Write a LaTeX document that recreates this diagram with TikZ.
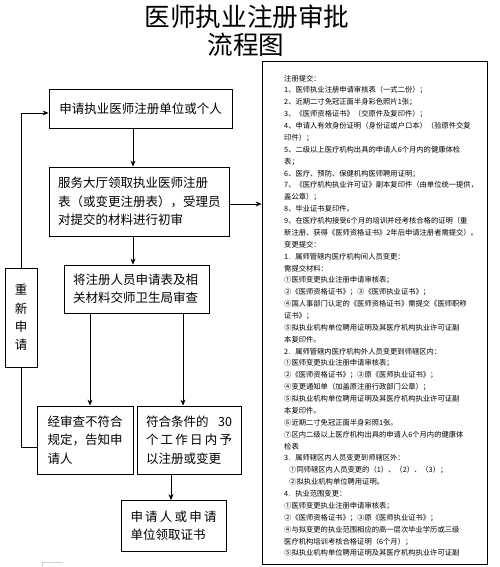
\documentclass[tikz,border=0pt]{standalone}
\usepackage{fontspec}
\setmainfont{Noto Sans CJK SC}
\usetikzlibrary{arrows.meta}
\newcommand\rl[3]{\node[rtxt] (r#1) at (#2,{78.3+11.87*(#1-1)+2.8}) {#3};}
\begin{document}
\begin{tikzpicture}[x=1pt,y=-1pt,
  box/.style={draw, line width=0.8pt, inner sep=0pt, font=\fontsize{12.5}{18.3}\selectfont},
  arr/.style={-{Stealth[length=6pt,width=5pt]}, line width=0.8pt},
  ln/.style={line width=0.8pt},
  rtxt/.style={anchor=base west, inner sep=0pt, font=\fontsize{7.3}{8}\selectfont},
  ttl/.style={inner sep=0pt, font=\fontsize{25.6}{28}\selectfont}]
\useasboundingbox (0,0) rectangle (499,567);
% title
\node[ttl] (t1) at (247,17) {医师执业注册审批};
\node[ttl] (t2) at (246,45) {流程图};
% boxes
\node[box, minimum width=183, minimum height=39] (b1) at (140.5,108.5) {申请执业医师注册单位或个人};
\node[box, minimum width=180, minimum height=69, align=left, text width=162] (b2) at (139,201.5)
  {服务大厅领取执业医师注册\\表（或变更注册表），受理员\\对提交的材料进行初审};
\node[box, minimum width=145, minimum height=48, align=left, text width=127] (b3) at (136.5,289)
  {将注册人员申请表及相\\关材料交师卫生局审查};
\node[box, minimum width=96, minimum height=68, align=left, text width=75] (b4) at (85,440)
  {经审查不符合\\规定，告知申\\请人};
\node[box, minimum width=104, minimum height=68, align=left, text width=86] (b5) at (189,440)
  {\makebox[86pt]{符合条件的\hfill 30}\\\makebox[86pt]{个\hfill 工\hfill 作\hfill 日\hfill 内\hfill 予}\\以注册或变更};
\node[box, minimum width=105, minimum height=51, align=left, text width=86] (b6) at (173.5,526)
  {\makebox[86pt]{申\hfill 请\hfill 人\hfill 或\hfill 申\hfill 请}\\单位领取证书};
\node[box, minimum width=32, minimum height=99, align=center] (re) at (21,317.5)
  {重\\新\\申\\请};
\node[draw, line width=0.8pt, minimum width=225, minimum height=503, inner sep=0pt] (big) at (374.5,312.5) {};
% right box text
\rl{1}{284}{注册提交：}
\rl{2}{284}{1、医师执业注册申请审核表（一式二份）；}
\rl{3}{284}{2、近期二寸免冠正面半身彩色照片1张；}
\rl{4}{284}{3、《医师资格证书》（交原件及复印件）；}
\rl{5}{284}{4、申请人有效身份证明（身份证或户口本）（验原件交复}
\rl{6}{284}{印件）；}
\rl{7}{284}{5、二级以上医疗机构出具的申请人6个月内的健康体检}
\rl{8}{284}{表；}
\rl{9}{284}{6、医疗、预防、保健机构医师聘用证明；}
\rl{10}{284}{7、《医疗机构执业许可证》副本复印件（由单位统一提供，}
\rl{11}{284}{盖公章）；}
\rl{12}{284}{8、毕业证书复印件。}
\rl{13}{284}{9、在医疗机构接受6个月的培训并经考核合格的证明（重}
\rl{14}{284}{新注册、获得《医师资格证书》2年后申请注册者需提交）。}
\rl{15}{284}{变更提交：}
\rl{16}{284}{1.\hspace{5pt}属师管辖内医疗机构间人员变更：}
\rl{17}{284}{需提交材料：}
\rl{18}{284}{①医师变更执业注册申请审核表；}
\rl{19}{284}{②《医师资格证书》；③《医师执业证书》；}
\rl{20}{284}{④国人事部门认定的《医师资格证书》需提交《医师职称}
\rl{21}{284}{证书》；}
\rl{22}{284}{⑤拟执业机构单位聘用证明及其医疗机构执业许可证副}
\rl{23}{284}{本复印件。}
\rl{24}{284}{2.\hspace{5pt}属师管辖内医疗机构外人员变更到师辖区内：}
\rl{25}{284}{①医师变更执业注册申请审核表；}
\rl{26}{284}{②《医师资格证书》；③原《医师执业证书》；}
\rl{27}{284}{④变更通知单（加盖原注册行政部门公章）；}
\rl{28}{284}{⑤拟执业机构单位聘用证明及其医疗机构执业许可证副}
\rl{29}{284}{本复印件。}
\rl{30}{284}{⑥近期二寸免冠正面半身彩照1张。}
\rl{31}{284}{⑦区内二级以上医疗机构出具的申请人6个月内的健康体}
\rl{32}{284}{检表}
\rl{33}{284}{3.\hspace{5pt}属师辖区内人员变更到师辖区外：}
\rl{34}{289}{①同师辖区内人员变更的（1）、（2）、（3）；}
\rl{35}{289}{②拟执业机构单位聘用证明。}
\rl{36}{284}{4.\hspace{5pt}执业范围变更：}
\rl{37}{284}{①医师变更执业注册申请审核表；}
\rl{38}{284}{②《医师资格证书》；③原《医师执业证书》；}
\rl{39}{284}{④与拟变更的执业范围相应的高一层次毕业学历或三级}
\rl{40}{284}{医疗机构培训考核合格证明（6个月）；}
\rl{41}{284}{⑤拟执业机构单位聘用证明及其医疗机构执业许可证副}
% helper coordinates
\coordinate (cx1) at (133,0);
\coordinate (cy2) at (0,204);
\coordinate (cx3) at (90,0);
\coordinate (cx4) at (183,0);
\coordinate (cx5) at (171,0);
\coordinate (cy6) at (0,447);
\coordinate (cy7) at (0,113);
% connectors
\draw[arr] (b1.south -| cx1) -- (b2.north -| cx1);
\draw[arr] (b2.south -| cx1) -- (b3.north -| cx1);
\draw[arr] (b2.east |- cy2) -- (big.west |- cy2);
\draw[arr] (b3.south -| cx3) -- (b4.north -| cx3);
\draw[arr] (b3.south -| cx4) -- (b5.north -| cx4);
\draw[arr] (b5.south -| cx5) -- (b6.north -| cx5);
\draw[ln] (b4.west |- cy6) -- (re.south |- cy6) -- (re.south);
\draw[arr] (re.north) -- (re.north |- cy7) -- (b1.west |- cy7);
% faint mark at bottom
\draw[gray!35, line width=0.8pt] (42,567) -- (42,562) -- (63,562);
\end{tikzpicture}
\end{document}
